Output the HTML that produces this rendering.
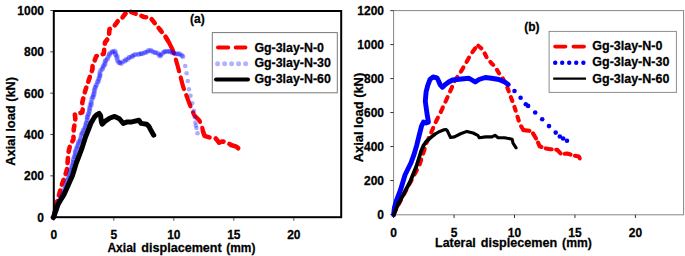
<!DOCTYPE html>
<html><head><meta charset="utf-8"><style>
html,body{margin:0;padding:0;background:#fff;width:685px;height:256px;overflow:hidden}
svg{display:block}
text{font-family:"Liberation Sans",sans-serif;font-weight:bold;fill:#000;stroke:#000;stroke-width:0.25px}
</style></head><body>
<svg width="685" height="256" viewBox="0 0 685 256">
<rect width="685" height="256" fill="#fff"/>
<line x1="50.3" y1="217.20" x2="54" y2="217.20" stroke="#444" stroke-width="1"/>
<text transform="translate(44.00,221.80) scale(1,1.07)" font-size="12" text-anchor="end">0</text>
<line x1="50.3" y1="175.86" x2="54" y2="175.86" stroke="#444" stroke-width="1"/>
<text transform="translate(44.00,180.46) scale(1,1.07)" font-size="12" text-anchor="end">200</text>
<line x1="50.3" y1="134.52" x2="54" y2="134.52" stroke="#444" stroke-width="1"/>
<text transform="translate(44.00,139.12) scale(1,1.07)" font-size="12" text-anchor="end">400</text>
<line x1="50.3" y1="93.18" x2="54" y2="93.18" stroke="#444" stroke-width="1"/>
<text transform="translate(44.00,97.78) scale(1,1.07)" font-size="12" text-anchor="end">600</text>
<line x1="50.3" y1="51.84" x2="54" y2="51.84" stroke="#444" stroke-width="1"/>
<text transform="translate(44.00,56.44) scale(1,1.07)" font-size="12" text-anchor="end">800</text>
<line x1="50.3" y1="10.50" x2="54" y2="10.50" stroke="#444" stroke-width="1"/>
<text transform="translate(44.00,15.10) scale(1,1.07)" font-size="12" text-anchor="end">1000</text>
<line x1="53.80" y1="217" x2="53.80" y2="220.8" stroke="#555" stroke-width="1"/>
<text transform="translate(53.80,238.90) scale(1,1.07)" font-size="12" text-anchor="middle">0</text>
<line x1="113.80" y1="217" x2="113.80" y2="220.8" stroke="#555" stroke-width="1"/>
<text transform="translate(113.80,238.90) scale(1,1.07)" font-size="12" text-anchor="middle">5</text>
<line x1="173.80" y1="217" x2="173.80" y2="220.8" stroke="#555" stroke-width="1"/>
<text transform="translate(173.80,238.90) scale(1,1.07)" font-size="12" text-anchor="middle">10</text>
<line x1="233.80" y1="217" x2="233.80" y2="220.8" stroke="#555" stroke-width="1"/>
<text transform="translate(233.80,238.90) scale(1,1.07)" font-size="12" text-anchor="middle">15</text>
<line x1="293.80" y1="217" x2="293.80" y2="220.8" stroke="#555" stroke-width="1"/>
<text transform="translate(293.80,238.90) scale(1,1.07)" font-size="12" text-anchor="middle">20</text>
<polyline points="53.50,217.00 54.40,213.90 55.50,206.80 59.00,195.00 61.40,185.80 64.90,176.40 66.90,169.70 67.50,163.40 68.00,157.20 68.75,150.90 70.30,144.70 73.40,139.50 73.75,128.90 74.50,125.00 75.30,118.75 74.80,114.00 82.30,112.50 82.80,108.60 82.30,102.30 85.00,91.50 87.50,84.00 90.00,76.50 92.50,69.00 92.50,66.25 96.25,56.25 103.75,53.75 105.00,42.50 108.75,37.50 109.50,29.25 114.00,26.25 117.75,21.25 121.50,18.75 125.25,13.75 129.00,11.25 132.75,12.50 137.75,14.50 144.00,17.00 150.25,17.50 155.25,23.75 160.25,30.00 165.25,36.25 169.00,42.50" fill="none" stroke="#ff0000" stroke-width="4.6" stroke-dasharray="5 6.2" stroke-linecap="round" stroke-linejoin="round"/>
<polyline points="169.00,42.50 172.75,50.00 175.25,57.50 177.75,66.25 180.50,76.50 183.00,86.50 186.75,96.50 190.50,106.50 194.25,115.25 199.25,120.25 201.75,125.25 203.00,131.25" fill="none" stroke="#ff0000" stroke-width="4.2" stroke-dasharray="12 6.5" stroke-linecap="round" stroke-linejoin="round"/>
<polyline points="203.00,131.25 204.40,135.60 206.00,136.40 210.00,137.50 215.30,138.00 217.00,140.00 219.20,142.70 222.00,141.50 226.25,141.90 231.00,145.00 236.40,146.60 238.50,148.50 240.30,152.00" fill="none" stroke="#ff0000" stroke-width="4.6" stroke-dasharray="10 6.5" stroke-linecap="round" stroke-linejoin="round"/>
<circle cx="53.06" cy="217.42" r="2.5" fill="#0000ff" fill-opacity="0.27"/><circle cx="54.27" cy="215.38" r="2.5" fill="#0000ff" fill-opacity="0.27"/><circle cx="54.41" cy="214.29" r="2.5" fill="#0000ff" fill-opacity="0.27"/><circle cx="55.06" cy="213.38" r="2.5" fill="#0000ff" fill-opacity="0.27"/><circle cx="54.84" cy="211.14" r="2.5" fill="#0000ff" fill-opacity="0.27"/><circle cx="56.19" cy="210.30" r="2.5" fill="#0000ff" fill-opacity="0.27"/><circle cx="56.56" cy="208.46" r="2.5" fill="#0000ff" fill-opacity="0.27"/><circle cx="56.64" cy="208.00" r="2.5" fill="#0000ff" fill-opacity="0.27"/><circle cx="56.84" cy="206.95" r="2.5" fill="#0000ff" fill-opacity="0.27"/><circle cx="58.10" cy="204.53" r="2.5" fill="#0000ff" fill-opacity="0.27"/><circle cx="57.54" cy="203.83" r="2.5" fill="#0000ff" fill-opacity="0.27"/><circle cx="59.26" cy="202.39" r="2.5" fill="#0000ff" fill-opacity="0.27"/><circle cx="59.02" cy="201.18" r="2.5" fill="#0000ff" fill-opacity="0.27"/><circle cx="59.42" cy="199.69" r="2.5" fill="#0000ff" fill-opacity="0.27"/><circle cx="60.54" cy="198.77" r="2.5" fill="#0000ff" fill-opacity="0.27"/><circle cx="60.92" cy="197.20" r="2.5" fill="#0000ff" fill-opacity="0.27"/><circle cx="61.53" cy="196.22" r="2.5" fill="#0000ff" fill-opacity="0.27"/><circle cx="62.24" cy="194.44" r="2.5" fill="#0000ff" fill-opacity="0.27"/><circle cx="63.36" cy="193.77" r="2.5" fill="#0000ff" fill-opacity="0.27"/><circle cx="63.60" cy="192.00" r="2.5" fill="#0000ff" fill-opacity="0.27"/><circle cx="64.48" cy="191.49" r="2.5" fill="#0000ff" fill-opacity="0.27"/><circle cx="63.90" cy="189.54" r="2.5" fill="#0000ff" fill-opacity="0.27"/><circle cx="65.09" cy="188.67" r="2.5" fill="#0000ff" fill-opacity="0.27"/><circle cx="65.81" cy="187.00" r="2.5" fill="#0000ff" fill-opacity="0.27"/><circle cx="66.15" cy="185.98" r="2.5" fill="#0000ff" fill-opacity="0.27"/><circle cx="65.99" cy="184.56" r="2.5" fill="#0000ff" fill-opacity="0.27"/><circle cx="67.15" cy="183.55" r="2.5" fill="#0000ff" fill-opacity="0.27"/><circle cx="67.16" cy="181.92" r="2.5" fill="#0000ff" fill-opacity="0.27"/><circle cx="67.06" cy="180.19" r="2.5" fill="#0000ff" fill-opacity="0.27"/><circle cx="68.44" cy="179.07" r="2.5" fill="#0000ff" fill-opacity="0.27"/><circle cx="68.15" cy="177.91" r="2.5" fill="#0000ff" fill-opacity="0.27"/><circle cx="69.19" cy="176.72" r="2.5" fill="#0000ff" fill-opacity="0.27"/><circle cx="69.20" cy="175.10" r="2.5" fill="#0000ff" fill-opacity="0.27"/><circle cx="69.76" cy="174.16" r="2.5" fill="#0000ff" fill-opacity="0.27"/><circle cx="70.18" cy="172.36" r="2.5" fill="#0000ff" fill-opacity="0.27"/><circle cx="70.54" cy="170.58" r="2.5" fill="#0000ff" fill-opacity="0.27"/><circle cx="70.41" cy="170.05" r="2.5" fill="#0000ff" fill-opacity="0.27"/><circle cx="71.94" cy="168.58" r="2.5" fill="#0000ff" fill-opacity="0.27"/><circle cx="71.58" cy="166.72" r="2.5" fill="#0000ff" fill-opacity="0.27"/><circle cx="72.03" cy="166.33" r="2.5" fill="#0000ff" fill-opacity="0.27"/><circle cx="72.67" cy="164.43" r="2.5" fill="#0000ff" fill-opacity="0.27"/><circle cx="73.09" cy="162.70" r="2.5" fill="#0000ff" fill-opacity="0.27"/><circle cx="73.00" cy="162.20" r="2.5" fill="#0000ff" fill-opacity="0.27"/><circle cx="73.39" cy="160.25" r="2.5" fill="#0000ff" fill-opacity="0.27"/><circle cx="73.34" cy="158.99" r="2.5" fill="#0000ff" fill-opacity="0.27"/><circle cx="74.48" cy="156.97" r="2.5" fill="#0000ff" fill-opacity="0.27"/><circle cx="74.59" cy="156.59" r="2.5" fill="#0000ff" fill-opacity="0.27"/><circle cx="75.03" cy="155.13" r="2.5" fill="#0000ff" fill-opacity="0.27"/><circle cx="75.26" cy="153.50" r="2.5" fill="#0000ff" fill-opacity="0.27"/><circle cx="75.39" cy="152.06" r="2.5" fill="#0000ff" fill-opacity="0.27"/><circle cx="75.28" cy="151.28" r="2.5" fill="#0000ff" fill-opacity="0.27"/><circle cx="76.39" cy="149.17" r="2.5" fill="#0000ff" fill-opacity="0.27"/><circle cx="76.80" cy="148.20" r="2.5" fill="#0000ff" fill-opacity="0.27"/><circle cx="77.11" cy="146.72" r="2.5" fill="#0000ff" fill-opacity="0.27"/><circle cx="77.82" cy="145.74" r="2.5" fill="#0000ff" fill-opacity="0.27"/><circle cx="78.40" cy="144.23" r="2.5" fill="#0000ff" fill-opacity="0.27"/><circle cx="78.19" cy="142.65" r="2.5" fill="#0000ff" fill-opacity="0.27"/><circle cx="78.86" cy="141.76" r="2.5" fill="#0000ff" fill-opacity="0.27"/><circle cx="80.18" cy="140.71" r="2.5" fill="#0000ff" fill-opacity="0.27"/><circle cx="80.59" cy="139.42" r="2.5" fill="#0000ff" fill-opacity="0.27"/><circle cx="80.43" cy="138.14" r="2.5" fill="#0000ff" fill-opacity="0.27"/><circle cx="81.43" cy="135.92" r="2.5" fill="#0000ff" fill-opacity="0.27"/><circle cx="81.13" cy="134.52" r="2.5" fill="#0000ff" fill-opacity="0.27"/><circle cx="82.51" cy="133.50" r="2.5" fill="#0000ff" fill-opacity="0.27"/><circle cx="82.28" cy="132.66" r="2.5" fill="#0000ff" fill-opacity="0.27"/><circle cx="83.21" cy="130.75" r="2.5" fill="#0000ff" fill-opacity="0.27"/><circle cx="83.63" cy="130.06" r="2.5" fill="#0000ff" fill-opacity="0.27"/><circle cx="84.28" cy="128.51" r="2.5" fill="#0000ff" fill-opacity="0.27"/><circle cx="85.57" cy="127.48" r="2.5" fill="#0000ff" fill-opacity="0.27"/><circle cx="85.66" cy="126.23" r="2.5" fill="#0000ff" fill-opacity="0.27"/><circle cx="85.59" cy="124.75" r="2.5" fill="#0000ff" fill-opacity="0.27"/><circle cx="86.35" cy="123.14" r="2.5" fill="#0000ff" fill-opacity="0.27"/><circle cx="86.26" cy="122.63" r="2.5" fill="#0000ff" fill-opacity="0.27"/><circle cx="87.03" cy="120.43" r="2.5" fill="#0000ff" fill-opacity="0.27"/><circle cx="87.43" cy="119.79" r="2.5" fill="#0000ff" fill-opacity="0.27"/><circle cx="87.02" cy="117.46" r="2.5" fill="#0000ff" fill-opacity="0.27"/><circle cx="87.45" cy="116.93" r="2.5" fill="#0000ff" fill-opacity="0.27"/><circle cx="87.77" cy="115.54" r="2.5" fill="#0000ff" fill-opacity="0.27"/><circle cx="88.73" cy="113.99" r="2.5" fill="#0000ff" fill-opacity="0.27"/><circle cx="88.52" cy="113.15" r="2.5" fill="#0000ff" fill-opacity="0.27"/><circle cx="89.55" cy="111.24" r="2.5" fill="#0000ff" fill-opacity="0.27"/><circle cx="89.20" cy="110.04" r="2.5" fill="#0000ff" fill-opacity="0.27"/><circle cx="89.75" cy="108.60" r="2.5" fill="#0000ff" fill-opacity="0.27"/><circle cx="90.00" cy="107.31" r="2.5" fill="#0000ff" fill-opacity="0.27"/><circle cx="90.01" cy="105.55" r="2.5" fill="#0000ff" fill-opacity="0.27"/><circle cx="91.38" cy="104.87" r="2.5" fill="#0000ff" fill-opacity="0.27"/><circle cx="90.86" cy="103.47" r="2.5" fill="#0000ff" fill-opacity="0.27"/><circle cx="91.14" cy="102.20" r="2.5" fill="#0000ff" fill-opacity="0.27"/><circle cx="91.93" cy="100.20" r="2.5" fill="#0000ff" fill-opacity="0.27"/><circle cx="91.72" cy="98.36" r="2.5" fill="#0000ff" fill-opacity="0.27"/><circle cx="92.87" cy="97.05" r="2.5" fill="#0000ff" fill-opacity="0.27"/><circle cx="93.20" cy="96.82" r="2.5" fill="#0000ff" fill-opacity="0.27"/><circle cx="93.31" cy="94.53" r="2.5" fill="#0000ff" fill-opacity="0.27"/><circle cx="94.07" cy="94.15" r="2.5" fill="#0000ff" fill-opacity="0.27"/><circle cx="94.27" cy="92.26" r="2.5" fill="#0000ff" fill-opacity="0.27"/><circle cx="94.28" cy="90.72" r="2.5" fill="#0000ff" fill-opacity="0.27"/><circle cx="94.48" cy="89.77" r="2.5" fill="#0000ff" fill-opacity="0.27"/><circle cx="95.20" cy="87.87" r="2.5" fill="#0000ff" fill-opacity="0.27"/><circle cx="95.30" cy="87.13" r="2.5" fill="#0000ff" fill-opacity="0.27"/><circle cx="96.02" cy="85.62" r="2.5" fill="#0000ff" fill-opacity="0.27"/><circle cx="96.55" cy="84.75" r="2.5" fill="#0000ff" fill-opacity="0.27"/><circle cx="97.73" cy="82.42" r="2.5" fill="#0000ff" fill-opacity="0.27"/><circle cx="97.38" cy="81.48" r="2.5" fill="#0000ff" fill-opacity="0.27"/><circle cx="98.82" cy="80.71" r="2.5" fill="#0000ff" fill-opacity="0.27"/><circle cx="98.53" cy="78.72" r="2.5" fill="#0000ff" fill-opacity="0.27"/><circle cx="99.22" cy="78.10" r="2.5" fill="#0000ff" fill-opacity="0.27"/><circle cx="99.81" cy="76.13" r="2.5" fill="#0000ff" fill-opacity="0.27"/><circle cx="100.03" cy="75.17" r="2.5" fill="#0000ff" fill-opacity="0.27"/><circle cx="99.82" cy="74.16" r="2.5" fill="#0000ff" fill-opacity="0.27"/><circle cx="99.95" cy="72.53" r="2.5" fill="#0000ff" fill-opacity="0.27"/><circle cx="100.40" cy="70.61" r="2.5" fill="#0000ff" fill-opacity="0.27"/><circle cx="102.02" cy="69.41" r="2.5" fill="#0000ff" fill-opacity="0.27"/><circle cx="102.46" cy="68.62" r="2.5" fill="#0000ff" fill-opacity="0.27"/><circle cx="103.19" cy="67.09" r="2.5" fill="#0000ff" fill-opacity="0.27"/><circle cx="103.21" cy="65.74" r="2.5" fill="#0000ff" fill-opacity="0.27"/><circle cx="104.47" cy="64.87" r="2.5" fill="#0000ff" fill-opacity="0.27"/><circle cx="105.20" cy="63.96" r="2.5" fill="#0000ff" fill-opacity="0.27"/><circle cx="104.84" cy="62.30" r="2.5" fill="#0000ff" fill-opacity="0.27"/><circle cx="105.43" cy="60.43" r="2.5" fill="#0000ff" fill-opacity="0.27"/><circle cx="106.02" cy="60.17" r="2.5" fill="#0000ff" fill-opacity="0.27"/><circle cx="107.50" cy="58.88" r="2.5" fill="#0000ff" fill-opacity="0.27"/><circle cx="107.64" cy="57.40" r="2.5" fill="#0000ff" fill-opacity="0.27"/><circle cx="108.91" cy="55.92" r="2.5" fill="#0000ff" fill-opacity="0.27"/><circle cx="109.39" cy="54.54" r="2.5" fill="#0000ff" fill-opacity="0.27"/><circle cx="109.54" cy="53.41" r="2.5" fill="#0000ff" fill-opacity="0.27"/><circle cx="111.25" cy="52.57" r="2.5" fill="#0000ff" fill-opacity="0.27"/><circle cx="112.46" cy="51.73" r="2.5" fill="#0000ff" fill-opacity="0.27"/><circle cx="112.93" cy="51.49" r="2.5" fill="#0000ff" fill-opacity="0.27"/><circle cx="114.67" cy="50.92" r="2.5" fill="#0000ff" fill-opacity="0.27"/><circle cx="115.45" cy="52.03" r="2.5" fill="#0000ff" fill-opacity="0.27"/><circle cx="115.45" cy="54.17" r="2.5" fill="#0000ff" fill-opacity="0.27"/><circle cx="115.75" cy="54.74" r="2.5" fill="#0000ff" fill-opacity="0.27"/><circle cx="117.28" cy="56.30" r="2.5" fill="#0000ff" fill-opacity="0.27"/><circle cx="116.62" cy="57.34" r="2.5" fill="#0000ff" fill-opacity="0.27"/><circle cx="117.29" cy="59.34" r="2.5" fill="#0000ff" fill-opacity="0.27"/><circle cx="117.65" cy="60.83" r="2.5" fill="#0000ff" fill-opacity="0.27"/><circle cx="118.50" cy="62.20" r="2.5" fill="#0000ff" fill-opacity="0.27"/><circle cx="119.67" cy="62.69" r="2.5" fill="#0000ff" fill-opacity="0.27"/><circle cx="120.23" cy="63.12" r="2.5" fill="#0000ff" fill-opacity="0.27"/><circle cx="121.43" cy="63.47" r="2.5" fill="#0000ff" fill-opacity="0.27"/><circle cx="122.44" cy="61.81" r="2.5" fill="#0000ff" fill-opacity="0.27"/><circle cx="124.65" cy="61.26" r="2.5" fill="#0000ff" fill-opacity="0.27"/><circle cx="125.27" cy="60.56" r="2.5" fill="#0000ff" fill-opacity="0.27"/><circle cx="126.02" cy="59.22" r="2.5" fill="#0000ff" fill-opacity="0.27"/><circle cx="127.84" cy="59.44" r="2.5" fill="#0000ff" fill-opacity="0.27"/><circle cx="129.01" cy="57.54" r="2.5" fill="#0000ff" fill-opacity="0.27"/><circle cx="129.31" cy="57.45" r="2.5" fill="#0000ff" fill-opacity="0.27"/><circle cx="131.47" cy="56.73" r="2.5" fill="#0000ff" fill-opacity="0.27"/><circle cx="132.37" cy="56.23" r="2.5" fill="#0000ff" fill-opacity="0.27"/><circle cx="133.15" cy="55.55" r="2.5" fill="#0000ff" fill-opacity="0.27"/><circle cx="134.54" cy="54.79" r="2.5" fill="#0000ff" fill-opacity="0.27"/><circle cx="135.61" cy="54.42" r="2.5" fill="#0000ff" fill-opacity="0.27"/><circle cx="138.05" cy="54.31" r="2.5" fill="#0000ff" fill-opacity="0.27"/><circle cx="139.04" cy="54.33" r="2.5" fill="#0000ff" fill-opacity="0.27"/><circle cx="140.77" cy="53.80" r="2.5" fill="#0000ff" fill-opacity="0.27"/><circle cx="141.38" cy="53.47" r="2.5" fill="#0000ff" fill-opacity="0.27"/><circle cx="142.72" cy="53.65" r="2.5" fill="#0000ff" fill-opacity="0.27"/><circle cx="144.74" cy="52.55" r="2.5" fill="#0000ff" fill-opacity="0.27"/><circle cx="145.39" cy="52.39" r="2.5" fill="#0000ff" fill-opacity="0.27"/><circle cx="147.01" cy="52.01" r="2.5" fill="#0000ff" fill-opacity="0.27"/><circle cx="147.94" cy="50.87" r="2.5" fill="#0000ff" fill-opacity="0.27"/><circle cx="149.26" cy="50.48" r="2.5" fill="#0000ff" fill-opacity="0.27"/><circle cx="150.96" cy="50.14" r="2.5" fill="#0000ff" fill-opacity="0.27"/><circle cx="151.71" cy="51.27" r="2.5" fill="#0000ff" fill-opacity="0.27"/><circle cx="153.30" cy="51.91" r="2.5" fill="#0000ff" fill-opacity="0.27"/><circle cx="154.86" cy="52.45" r="2.5" fill="#0000ff" fill-opacity="0.27"/><circle cx="155.63" cy="52.74" r="2.5" fill="#0000ff" fill-opacity="0.27"/><circle cx="157.48" cy="53.12" r="2.5" fill="#0000ff" fill-opacity="0.27"/><circle cx="158.74" cy="54.13" r="2.5" fill="#0000ff" fill-opacity="0.27"/><circle cx="159.61" cy="56.00" r="2.5" fill="#0000ff" fill-opacity="0.27"/><circle cx="160.69" cy="55.62" r="2.5" fill="#0000ff" fill-opacity="0.27"/><circle cx="160.69" cy="54.75" r="2.5" fill="#0000ff" fill-opacity="0.27"/><circle cx="162.52" cy="53.38" r="2.5" fill="#0000ff" fill-opacity="0.27"/><circle cx="163.49" cy="52.25" r="2.5" fill="#0000ff" fill-opacity="0.27"/><circle cx="164.71" cy="51.38" r="2.5" fill="#0000ff" fill-opacity="0.27"/><circle cx="165.19" cy="51.70" r="2.5" fill="#0000ff" fill-opacity="0.27"/><circle cx="166.98" cy="51.16" r="2.5" fill="#0000ff" fill-opacity="0.27"/><circle cx="168.35" cy="51.43" r="2.5" fill="#0000ff" fill-opacity="0.27"/><circle cx="169.49" cy="51.21" r="2.5" fill="#0000ff" fill-opacity="0.27"/><circle cx="170.51" cy="51.65" r="2.5" fill="#0000ff" fill-opacity="0.27"/><circle cx="172.17" cy="52.70" r="2.5" fill="#0000ff" fill-opacity="0.27"/><circle cx="172.95" cy="52.41" r="2.5" fill="#0000ff" fill-opacity="0.27"/><circle cx="175.13" cy="53.74" r="2.5" fill="#0000ff" fill-opacity="0.27"/><circle cx="175.97" cy="53.83" r="2.5" fill="#0000ff" fill-opacity="0.27"/><circle cx="177.72" cy="53.94" r="2.5" fill="#0000ff" fill-opacity="0.27"/><circle cx="178.55" cy="54.03" r="2.5" fill="#0000ff" fill-opacity="0.27"/><circle cx="179.77" cy="53.87" r="2.5" fill="#0000ff" fill-opacity="0.27"/><circle cx="181.32" cy="55.15" r="2.5" fill="#0000ff" fill-opacity="0.27"/><circle cx="182.22" cy="55.71" r="2.5" fill="#0000ff" fill-opacity="0.27"/><circle cx="182.95" cy="56.79" r="2.5" fill="#0000ff" fill-opacity="0.27"/>
<circle cx="185.20" cy="66.00" r="2.3" fill="#0000ff" fill-opacity="0.33"/><circle cx="186.60" cy="73.30" r="2.3" fill="#0000ff" fill-opacity="0.33"/><circle cx="187.80" cy="81.00" r="2.3" fill="#0000ff" fill-opacity="0.33"/><circle cx="189.00" cy="89.30" r="2.3" fill="#0000ff" fill-opacity="0.33"/><circle cx="190.50" cy="95.70" r="2.3" fill="#0000ff" fill-opacity="0.33"/><circle cx="192.20" cy="103.30" r="2.3" fill="#0000ff" fill-opacity="0.33"/><circle cx="193.90" cy="110.80" r="2.3" fill="#0000ff" fill-opacity="0.33"/><circle cx="194.80" cy="117.20" r="2.3" fill="#0000ff" fill-opacity="0.33"/><circle cx="195.40" cy="122.50" r="2.3" fill="#0000ff" fill-opacity="0.33"/><circle cx="195.80" cy="125.50" r="2.3" fill="#0000ff" fill-opacity="0.33"/><circle cx="196.50" cy="128.00" r="2.3" fill="#0000ff" fill-opacity="0.33"/><circle cx="197.50" cy="133.30" r="2.3" fill="#0000ff" fill-opacity="0.33"/>
<polyline points="53.50,217.50 58.20,204.00 63.80,195.00 66.50,189.00 72.50,175.50 76.30,163.00 82.00,148.00 85.50,137.00 88.50,129.50 91.00,123.00 94.40,117.20 96.50,114.80 99.10,113.30 100.60,115.60 101.40,121.90 102.20,124.20 105.30,121.10 110.00,118.00 114.70,116.40 119.40,118.75 123.30,123.40 127.20,121.90 131.90,121.90 138.90,120.30 141.25,123.40 146.70,124.20 149.00,126.60 150.60,129.70 153.75,135.20" fill="none" stroke="#000" stroke-width="5" stroke-linejoin="round" stroke-linecap="round"/>
<rect x="53.8" y="11" width="287.4" height="206.2" fill="none" stroke="#000" stroke-width="2"/>
<text transform="translate(190.00,22.70) scale(1,1.07)" font-size="12">(a)</text>
<text transform="translate(107.40,251.90) scale(1,1.07)" font-size="12.4" textLength="28.8" lengthAdjust="spacingAndGlyphs">Axial</text>
<text transform="translate(141.30,251.90) scale(1,1.07)" font-size="12.4" textLength="80.4" lengthAdjust="spacingAndGlyphs">displacement</text>
<text transform="translate(226.30,251.90) scale(1,1.07)" font-size="12.4" textLength="29.1" lengthAdjust="spacingAndGlyphs">(mm)</text>
<text transform="translate(14.5,165.8) rotate(-90)" font-size="12" textLength="88.8" lengthAdjust="spacingAndGlyphs">Axial load (kN)</text>
<rect x="212.3" y="32.6" width="125" height="60.2" fill="#fff" stroke="#7a7a7a" stroke-width="1"/>
<path d="M218,47.4H228.2M235.7,47.4H245.4" stroke="#ff0000" stroke-width="4" stroke-linecap="round"/>
<circle cx="217.60" cy="63.80" r="2.5" fill="#0000ff" fill-opacity="0.3"/><circle cx="224.60" cy="63.80" r="2.5" fill="#0000ff" fill-opacity="0.3"/><circle cx="231.60" cy="63.80" r="2.5" fill="#0000ff" fill-opacity="0.3"/><circle cx="238.60" cy="63.80" r="2.5" fill="#0000ff" fill-opacity="0.3"/><circle cx="245.60" cy="63.80" r="2.5" fill="#0000ff" fill-opacity="0.3"/>
<line x1="216" y1="79.4" x2="248" y2="79.4" stroke="#000" stroke-width="4" stroke-linecap="round"/>
<text transform="translate(254.40,51.90) scale(1,1.07)" font-size="12.4">Gg-3lay-N-0</text>
<text transform="translate(254.40,67.20) scale(1,1.07)" font-size="12.4">Gg-3lay-N-30</text>
<text transform="translate(254.40,82.80) scale(1,1.07)" font-size="12.4">Gg-3lay-N-60</text>
<rect x="393.6" y="10.6" width="290" height="204.2" fill="none" stroke="#858585" stroke-width="1"/>
<line x1="390.3" y1="214.50" x2="393.6" y2="214.50" stroke="#333" stroke-width="1"/>
<text transform="translate(384.00,219.10) scale(1,1.07)" font-size="12" text-anchor="end">0</text>
<line x1="390.3" y1="180.52" x2="393.6" y2="180.52" stroke="#333" stroke-width="1"/>
<text transform="translate(384.00,185.12) scale(1,1.07)" font-size="12" text-anchor="end">200</text>
<line x1="390.3" y1="146.54" x2="393.6" y2="146.54" stroke="#333" stroke-width="1"/>
<text transform="translate(384.00,151.14) scale(1,1.07)" font-size="12" text-anchor="end">400</text>
<line x1="390.3" y1="112.56" x2="393.6" y2="112.56" stroke="#333" stroke-width="1"/>
<text transform="translate(384.00,117.16) scale(1,1.07)" font-size="12" text-anchor="end">600</text>
<line x1="390.3" y1="78.58" x2="393.6" y2="78.58" stroke="#333" stroke-width="1"/>
<text transform="translate(384.00,83.18) scale(1,1.07)" font-size="12" text-anchor="end">800</text>
<line x1="390.3" y1="44.60" x2="393.6" y2="44.60" stroke="#333" stroke-width="1"/>
<text transform="translate(384.00,49.20) scale(1,1.07)" font-size="12" text-anchor="end">1000</text>
<line x1="390.3" y1="10.62" x2="393.6" y2="10.62" stroke="#333" stroke-width="1"/>
<text transform="translate(384.00,15.22) scale(1,1.07)" font-size="12" text-anchor="end">1200</text>
<line x1="393.60" y1="214.8" x2="393.60" y2="218" stroke="#333" stroke-width="1"/>
<text transform="translate(393.60,236.90) scale(1,1.07)" font-size="12" text-anchor="middle">0</text>
<line x1="454.05" y1="214.8" x2="454.05" y2="218" stroke="#333" stroke-width="1"/>
<text transform="translate(454.05,236.90) scale(1,1.07)" font-size="12" text-anchor="middle">5</text>
<line x1="514.50" y1="214.8" x2="514.50" y2="218" stroke="#333" stroke-width="1"/>
<text transform="translate(514.50,236.90) scale(1,1.07)" font-size="12" text-anchor="middle">10</text>
<line x1="574.95" y1="214.8" x2="574.95" y2="218" stroke="#333" stroke-width="1"/>
<text transform="translate(574.95,236.90) scale(1,1.07)" font-size="12" text-anchor="middle">15</text>
<line x1="635.40" y1="214.8" x2="635.40" y2="218" stroke="#333" stroke-width="1"/>
<text transform="translate(635.40,236.90) scale(1,1.07)" font-size="12" text-anchor="middle">20</text>
<polyline points="393.80,214.50 397.80,206.00 419.50,165.00 424.50,149.30 426.25,143.50 431.25,132.25 436.25,121.00 441.25,111.00 447.50,97.25 452.50,86.00 454.00,82.00 461.50,70.75 466.50,62.00 471.50,53.25 475.25,48.25 478.25,45.75" fill="none" stroke="#ff0000" stroke-width="4.1" stroke-dasharray="5 6.3" stroke-linecap="round" stroke-linejoin="round"/>
<polyline points="478.25,45.75 482.75,49.50 486.50,57.00 491.50,63.25 495.25,67.00 499.00,73.25 502.30,77.30 507.00,86.70 510.50,96.10 514.00,105.50 516.90,114.80 519.90,124.20 523.40,130.10" fill="none" stroke="#ff0000" stroke-width="4.1" stroke-dasharray="4 6.3" stroke-linecap="round" stroke-linejoin="round"/>
<polyline points="523.40,130.10 529.30,130.80 532.80,133.00 537.10,140.40 539.70,146.30 544.60,148.20 550.40,149.20 557.30,149.80 561.20,154.10 567.00,153.50 573.90,155.50 578.80,156.60 581.70,161.90" fill="none" stroke="#ff0000" stroke-width="4.1" stroke-dasharray="6 4.5" stroke-linecap="round" stroke-linejoin="round"/>
<polyline points="393.60,214.70 394.40,207.70 396.70,199.80 400.60,189.70 405.00,175.00 410.90,163.00 413.80,155.20 416.70,145.40 419.60,133.70 421.60,125.90 423.50,122.00 426.10,123.00 428.40,122.20 426.90,112.80 425.30,101.25 426.10,91.90 427.70,85.60 430.00,79.40 433.10,77.00 437.00,77.80 438.60,81.00 440.20,84.80 442.50,87.20 445.00,84.80 448.75,82.00 452.50,80.00 461.50,79.00 469.00,78.25 475.25,82.00 479.00,79.50 485.25,77.50 491.50,78.25 499.00,79.50 504.70,82.00 508.20,84.40" fill="none" stroke="#0000ff" stroke-width="4.9" stroke-linejoin="round" stroke-linecap="round"/>
<circle cx="514.50" cy="91.00" r="2.3" fill="#0000ff"/><circle cx="520.60" cy="97.70" r="2.3" fill="#0000ff"/><circle cx="525.80" cy="104.30" r="2.3" fill="#0000ff"/><circle cx="528.10" cy="105.90" r="2.3" fill="#0000ff"/><circle cx="535.20" cy="112.50" r="2.3" fill="#0000ff"/><circle cx="542.20" cy="119.30" r="2.3" fill="#0000ff"/><circle cx="549.00" cy="126.10" r="2.3" fill="#0000ff"/><circle cx="555.70" cy="132.60" r="2.3" fill="#0000ff"/><circle cx="559.80" cy="136.50" r="2.3" fill="#0000ff"/><circle cx="563.10" cy="138.50" r="2.3" fill="#0000ff"/><circle cx="567.00" cy="140.80" r="2.3" fill="#0000ff"/>
<polyline points="393.70,214.50 397.80,205.00 410.00,182.00 416.50,166.00 419.00,158.00 421.00,151.50 423.50,145.50 426.50,141.30 429.40,138.60 434.30,134.60" fill="none" stroke="#000" stroke-width="3.8" stroke-linejoin="round" stroke-linecap="round"/>
<polyline points="434.30,134.60 439.20,131.70 444.00,129.80 446.00,129.50 447.30,130.60 450.50,137.50 454.40,136.90 460.60,133.75 466.90,131.40 473.10,133.00 477.80,135.30 479.40,137.80 485.60,136.90 491.90,136.90 495.00,135.30 498.10,137.70 504.40,137.70 512.20,139.20 513.00,143.10 516.10,147.80" fill="none" stroke="#000" stroke-width="3.1" stroke-linejoin="round" stroke-linecap="round"/>
<text transform="translate(524.30,30.60) scale(1,1.07)" font-size="12">(b)</text>
<text transform="translate(435.10,246.80) scale(1,1.07)" font-size="12.4" textLength="40.7" lengthAdjust="spacingAndGlyphs">Lateral</text>
<text transform="translate(480.80,246.80) scale(1,1.07)" font-size="12.4" textLength="76.3" lengthAdjust="spacingAndGlyphs">displecemen</text>
<text transform="translate(562.10,246.80) scale(1,1.07)" font-size="12.4" textLength="29.7" lengthAdjust="spacingAndGlyphs">(mm)</text>
<text transform="translate(363.3,162.3) rotate(-90)" font-size="12" textLength="89.5" lengthAdjust="spacingAndGlyphs">Axial load (kN)</text>
<rect x="549.1" y="31.4" width="127.3" height="61" fill="#fff" stroke="#8c8c8c" stroke-width="1"/>
<path d="M555,46.6H565.6M573.3,46.6H584.2" stroke="#ff0000" stroke-width="3.6" stroke-linecap="round"/>
<circle cx="555.20" cy="62.70" r="2.2" fill="#0000ff"/><circle cx="562.20" cy="62.70" r="2.2" fill="#0000ff"/><circle cx="569.20" cy="62.70" r="2.2" fill="#0000ff"/><circle cx="576.20" cy="62.70" r="2.2" fill="#0000ff"/><circle cx="583.40" cy="62.70" r="2.2" fill="#0000ff"/>
<line x1="553.2" y1="78.6" x2="586" y2="78.6" stroke="#000" stroke-width="2.4"/>
<text transform="translate(592.30,50.10) scale(1,1.07)" font-size="12.5">Gg-3lay-N-0</text>
<text transform="translate(592.30,66.30) scale(1,1.07)" font-size="12.5">Gg-3lay-N-30</text>
<text transform="translate(592.30,82.50) scale(1,1.07)" font-size="12.5">Gg-3lay-N-60</text>
</svg>
</body></html>
